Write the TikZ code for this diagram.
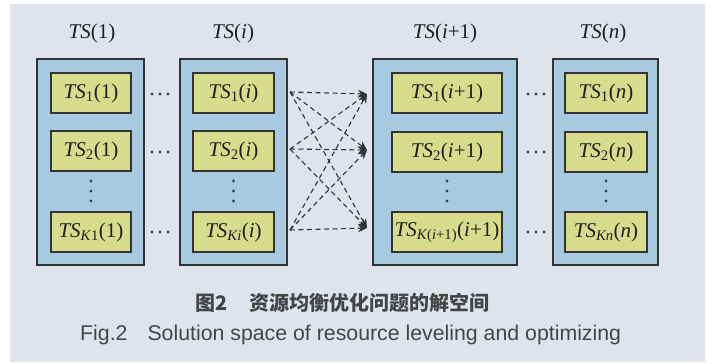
\documentclass[tikz,border=0pt]{standalone}
\usepackage{fontspec}
\setmainfont{Liberation Serif}
\newfontfamily\cjkfont{Noto Sans CJK SC}
\newfontfamily\capfont{Liberation Sans}
\usetikzlibrary{arrows.meta}
\definecolor{bgc}{HTML}{DFE4EC}
\definecolor{bluec}{HTML}{A8CAE0}
\definecolor{yelc}{HTML}{D6DC8C}
\definecolor{linec}{HTML}{333333}
\definecolor{capc}{HTML}{454545}
\definecolor{txtc}{HTML}{1E1E1E}
\newcommand\tsl[2]{\textit{TS}\textsubscript{#1}(#2)}
\begin{document}
\begin{tikzpicture}[x=1pt,y=-1pt,
  outerbox/.style={draw=linec, line width=1.3pt, fill=bluec, minimum width=#1, minimum height=206, inner sep=0pt},
  innerbox/.style={draw=linec, line width=1.3pt, fill=yelc, minimum width=#1, minimum height=40, inner sep=0pt,
     text=txtc, font=\fontsize{21}{23}\selectfont},
  title/.style={text=txtc, font=\fontsize{21}{23}\selectfont},
  dotmark/.style={fill=txtc!85, draw=none},
  arr/.style={draw=linec, line width=1.1pt, dash pattern=on 5pt off 3.5pt, -{Stealth[length=9pt,width=8pt]}}
]
\useasboundingbox (0,0) rectangle (713,364);
\fill[bgc] (10,4) rectangle (705,362);

% outer boxes
\node[outerbox=107] (o1) at (90.5,162) {};
\node[outerbox=107] (o2) at (233.5,162) {};
\node[outerbox=144] (o3) at (445,162) {};
\node[outerbox=105] (o4) at (605.5,162) {};

% titles
\node[title] (t1) at (92,33) {\textit{TS}(1)};
\node[title] (t2) at (233,33) {\textit{TS}(\textit{i})};
\node[title] (t3) at (445,33) {\textit{TS}(\textit{i}+1)};
\node[title] (t4) at (603,33) {\textit{TS}(\textit{n})};

% inner boxes column 1
\node[innerbox=80] (a1) at (91,93) {\tsl{1}{1}};
\node[innerbox=80] (a2) at (91,151) {\tsl{2}{1}};
\node[innerbox=80] (a3) at (91,232) {\tsl{\textit{K}1}{1}};
% column 2
\node[innerbox=81] (b1) at (233.5,93) {\tsl{1}{\textit{i}}};
\node[innerbox=81] (b2) at (233.5,151) {\tsl{2}{\textit{i}}};
\node[innerbox=81] (b3) at (233.5,232) {\tsl{\textit{Ki}}{\textit{i}}};
% column 3
\node[innerbox=110] (c1) at (447,93) {\tsl{1}{\textit{i}+1}};
\node[innerbox=110] (c2) at (447,152) {\tsl{2}{\textit{i}+1}};
\node[innerbox=110] (c3) at (447,232) {\tsl{\textit{K}(\textit{i}+1)}{\textit{i}+1}};
% column 4
\node[innerbox=82] (d1) at (606,93) {\tsl{1}{\textit{n}}};
\node[innerbox=82] (d2) at (606,152) {\tsl{2}{\textit{n}}};
\node[innerbox=82] (d3) at (606,232) {\tsl{\textit{Kn}}{\textit{n}}};

% vertical dots
\foreach \x in {91,233.5,447,606}{
  \foreach \y in {181,191,201}{
    \fill[dotmark] (\x,\y) circle (1.7);
  }
}

% horizontal dots
\foreach \x in {160,536}{
  \foreach \y in {94,152,232}{
    \foreach \d in {-8,0,8}{
      \fill[dotmark] (\x+\d,\y) circle (1.7);
    }
  }
}

% arrow end points
\coordinate (s1) at (290,92);
\coordinate (s2) at (290,149);
\coordinate (s3) at (290,230);
\coordinate (e1) at (367,94);
\coordinate (e2) at (367,150);
\coordinate (e3) at (367,228);
\foreach \i in {1,2,3}{
  \foreach \j in {1,2,3}{
    \draw[arr] (s\i) -- (e\j);
  }
}

% captions
\node[anchor=west, text=capc, font=\cjkfont\bfseries\fontsize{20}{22}\selectfont, inner sep=0pt] (cap1) at (195,303) {图2\hspace{22pt}资源均衡优化问题的解空间};
\node[anchor=west, text=capc, font=\capfont\fontsize{21.3}{23}\selectfont, inner sep=0pt] (cap2) at (80,335) {Fig.2\hspace{20pt}Solution space of resource leveling and optimizing};
\end{tikzpicture}
\end{document}
